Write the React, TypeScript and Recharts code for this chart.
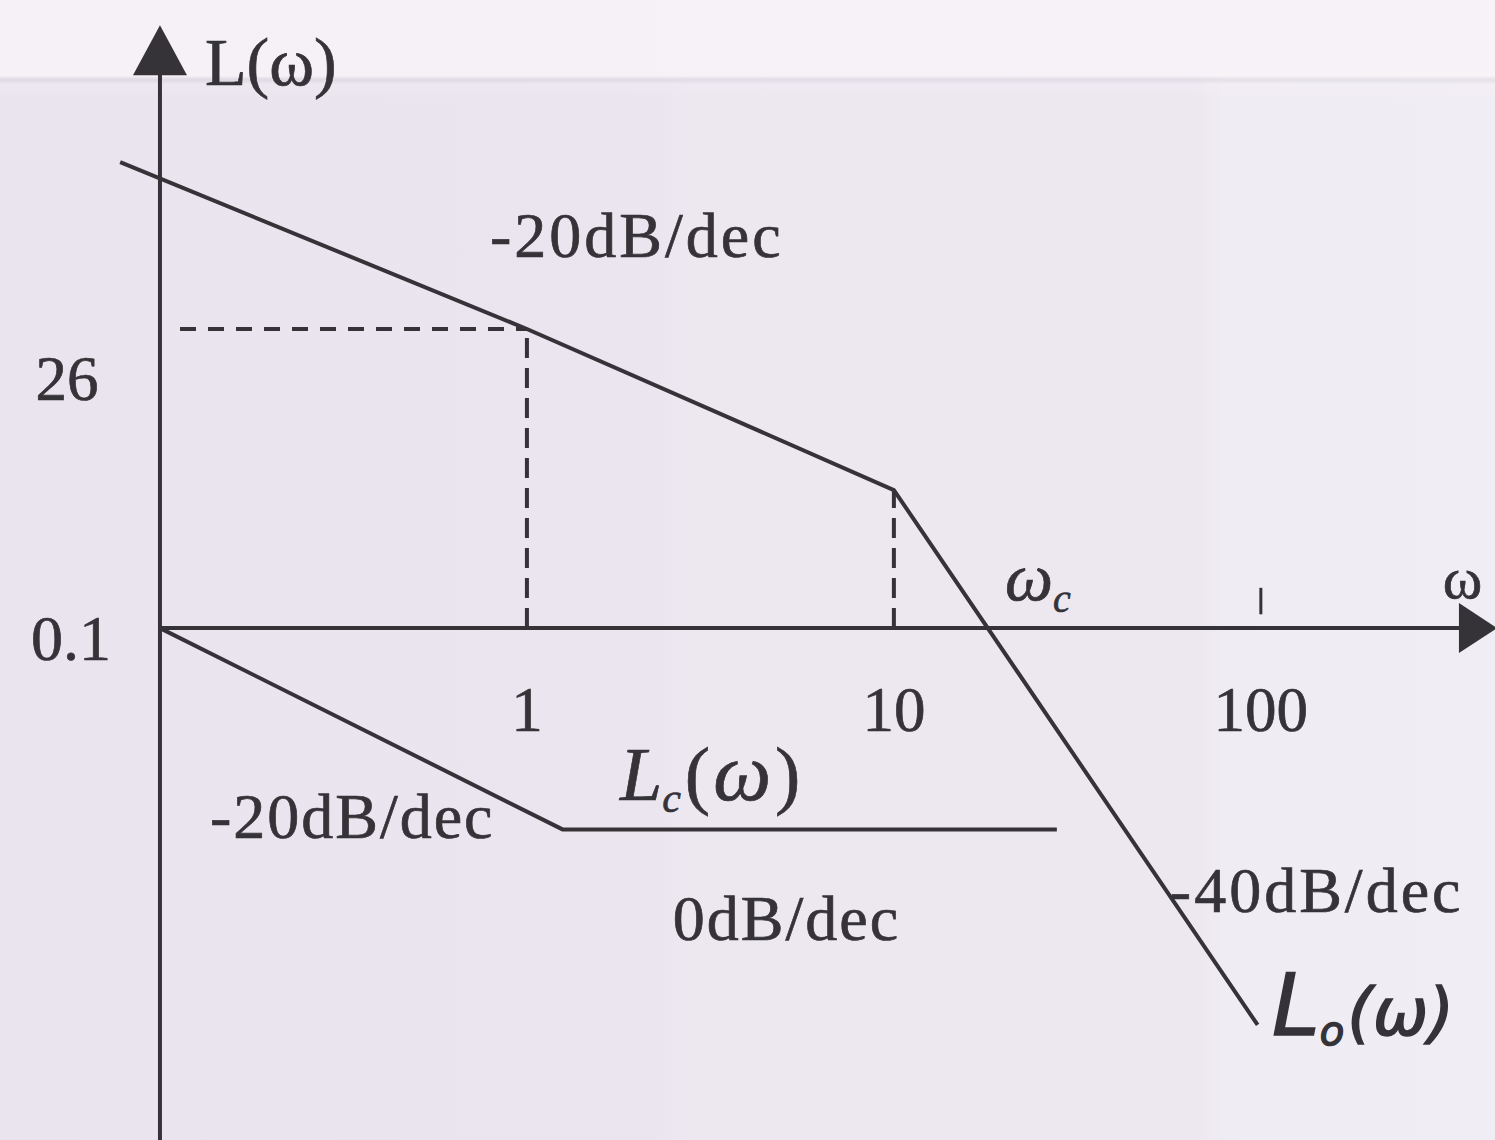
import React from 'react';
import { LineChart, Line, XAxis, YAxis, ReferenceLine, ReferenceDot } from 'recharts';

// log frequency axis (rad/s) and magnitude axis (dB)
const W_MIN = 0.03665;
const W_MAX = 434.6;
const DB_MIN = -44.5;
const DB_MAX = 54.6;

// open-loop asymptote L0(ω): -20 dB/dec, break at ω = 10, then -40 dB/dec
const openLoop = [
  { w: 0.0779, db: 40.5 },
  { w: 1, db: 26 },
  { w: 10, db: 12 },
  { w: 98, db: -34.5 },
];

// compensator asymptote Lc(ω): -20 dB/dec from ω = 0.1, then flat
const compensator = [
  { w: 0.1, db: 0 },
  { w: 1.25, db: -17.5 },
  { w: 27.8, db: -17.5 },
];

const xTicks = [1, 10, 100];
const xTickLabels = ['1', '10', '100'];
const originLabel = '0.1';
const yMarkValue = 26;
const breakFreq = 10;

const INK = '#353338';
const SERIF = '"Liberation Serif", "Times New Roman", serif';

const textShape =
  (content: React.ReactNode, anchor: 'start' | 'middle' | 'end' = 'start', size = 63, extra: any = {}) =>
  (p: any) => (
    <text
      x={p.cx}
      y={p.cy}
      textAnchor={anchor}
      fill={INK}
      stroke={INK}
      strokeWidth={0.7}
      fontFamily={SERIF}
      fontSize={size}
      {...extra}
    >
      {content}
    </text>
  );

const upArrow = (p: any) => (
  <polygon points={`${p.cx},${p.cy} ${p.cx - 27},${p.cy + 50} ${p.cx + 27},${p.cy + 50}`} fill={INK} />
);

const rightArrow = (p: any) => (
  <polygon points={`${p.cx},${p.cy} ${p.cx - 38},${p.cy - 25} ${p.cx - 38},${p.cy + 25}`} fill={INK} />
);

const App: React.FC = () => {
  return (
    <div
      style={{
        position: 'absolute',
        left: 0,
        top: 0,
        width: 1495,
        height: 1140,
        background:
          'linear-gradient(to bottom, rgba(248,244,248,0.8) 0px, rgba(248,244,248,0.8) 76px, rgba(170,166,178,0.14) 79px, rgba(170,166,178,0.14) 81px, rgba(248,244,248,0.2) 84px, rgba(248,244,248,0) 100px), ' +
          'linear-gradient(to right, #EAE4EE 0%, #EBE5EF 44%, #EDE8F0 46%, #EDE8F0 80%, #F0ECF3 82%, #F1EDF4 100%)',
      }}
    >
      <LineChart width={1495} height={1140} margin={{ top: 0, right: 0, bottom: 0, left: 0 }}>
        <XAxis
          dataKey="w"
          type="number"
          scale="log"
          domain={[W_MIN, W_MAX]}
          allowDataOverflow
          hide
        />
        <YAxis type="number" domain={[DB_MIN, DB_MAX]} allowDataOverflow hide />

        {/* axes */}
        <ReferenceLine
          segment={[{ x: 0.1, y: DB_MIN }, { x: 0.1, y: 48.5 }]}
          stroke={INK}
          strokeWidth={4}
          ifOverflow="visible"
        />
        <ReferenceLine
          segment={[{ x: 0.1, y: 0 }, { x: 400, y: 0 }]}
          stroke={INK}
          strokeWidth={4}
          ifOverflow="visible"
        />
        <ReferenceDot x={0.1} y={52.4} r={0} shape={upArrow} ifOverflow="visible" />
        <ReferenceDot x={440} y={0} r={0} shape={rightArrow} ifOverflow="visible" />
        <ReferenceLine
          segment={[{ x: xTicks[2], y: 1.2 }, { x: xTicks[2], y: 3.5 }]}
          stroke={INK}
          strokeWidth={3}
        />

        {/* guide lines */}
        <ReferenceLine
          segment={[{ x: 0.1134, y: yMarkValue }, { x: 1, y: yMarkValue }]}
          stroke={INK}
          strokeWidth={4}
          strokeDasharray="16 12"
        />
        <ReferenceLine
          segment={[{ x: 1, y: 0 }, { x: 1, y: yMarkValue }]}
          stroke={INK}
          strokeWidth={4}
          strokeDasharray="20 10"
        />
        <ReferenceLine
          segment={[{ x: breakFreq, y: 0 }, { x: breakFreq, y: 12 }]}
          stroke={INK}
          strokeWidth={4}
          strokeDasharray="20 10"
        />

        <Line
          data={openLoop}
          dataKey="db"
          type="linear"
          stroke={INK}
          strokeWidth={4}
          dot={false}
          activeDot={false}
          isAnimationActive={false}
        />
        <Line
          data={compensator}
          dataKey="db"
          type="linear"
          stroke={INK}
          strokeWidth={4}
          dot={false}
          activeDot={false}
          isAnimationActive={false}
        />

        {/* tick labels */}
        {xTicks.map((t, i) => (
          <ReferenceDot key={t} x={t} y={-8.95} r={0} shape={textShape(xTickLabels[i], 'middle')} />
        ))}
        <ReferenceDot x={0.0572} y={-2.78} r={0} shape={textShape(originLabel, 'middle', 64)} />
        <ReferenceDot x={0.0558} y={19.8} r={0} shape={textShape(String(yMarkValue), 'middle')} />

        {/* axis titles */}
        <ReferenceDot x={0.1327} y={47.2} r={0} shape={textShape('L(ω)', 'start', 68)} />
        <ReferenceDot x={313} y={2.6} r={0} shape={textShape('ω', 'start', 60)} />

        {/* slope annotations */}
        <ReferenceDot x={0.793} y={32.25} r={0} shape={textShape('-20dB/dec', 'start', 64, { letterSpacing: 3 })} />
        <ReferenceDot x={0.1368} y={-18.26} r={0} shape={textShape('-20dB/dec', 'start', 64, { letterSpacing: 2 })} />
        <ReferenceDot x={2.498} y={-27.12} r={0} shape={textShape('0dB/dec', 'start', 64, { letterSpacing: 2 })} />
        <ReferenceDot x={56.5} y={-24.69} r={0} shape={textShape('-40dB/dec', 'start', 64, { letterSpacing: 3 })} />

        {/* curve names */}
        <ReferenceDot
          x={1.792}
          y={-14.95}
          r={0}
          shape={textShape(
            <>
              <tspan fontStyle="italic">L</tspan>
              <tspan fontStyle="italic" fontSize={42} dy={12}>c</tspan>
              <tspan dy={-12} dx={4}>(</tspan>
              <tspan fontStyle="italic" fontSize={82} dx={3}>ω</tspan>
              <tspan dx={4}>)</tspan>
            </>,
            'start',
            76
          )}
        />
        <ReferenceDot
          x={20.07}
          y={2.43}
          r={0}
          shape={textShape(
            <>
              <tspan fontStyle="italic" fontSize={68}>ω</tspan>
              <tspan fontStyle="italic" fontSize={40} dy={12}>c</tspan>
            </>,
            'start',
            62
          )}
        />
        <ReferenceDot
          x={107.2}
          y={-35.38}
          r={0}
          shape={textShape(
            <>
              <tspan fontSize={86}>L</tspan>
              <tspan fontSize={40} dy={10}>o</tspan>
              <tspan dy={-10} dx={3}>(ω)</tspan>
            </>,
            'start',
            66,
            { fontFamily: '"DejaVu Sans", sans-serif', fontStyle: 'italic', strokeWidth: 1.5 }
          )}
        />
      </LineChart>
    </div>
  );
};

export default App;
